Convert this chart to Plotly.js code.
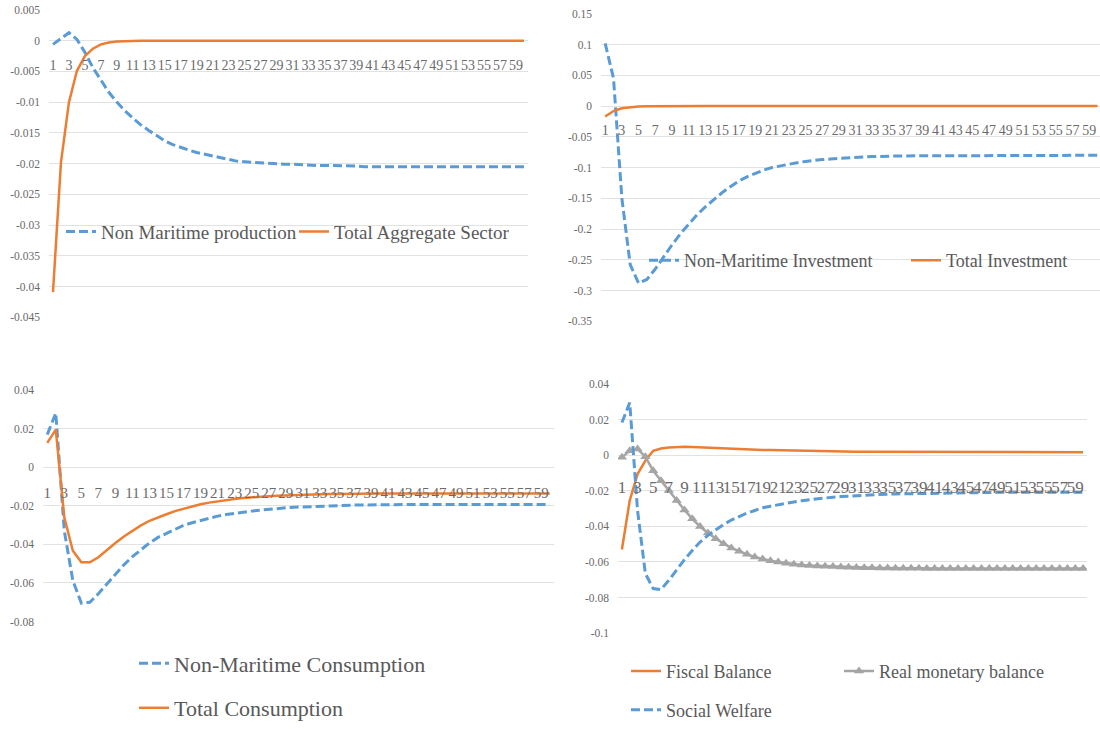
<!DOCTYPE html>
<html>
<head>
<meta charset="utf-8">
<script src="https://cdn.plot.ly/plotly-3.0.1.min.js"></script>
<style>html,body{margin:0;padding:0;background:#fff;}#chart{width:1100px;height:729px;}</style>
</head>
<body>
<div id="chart"></div>
<script>
var periods = [1,2,3,4,5,6,7,8,9,10,11,12,13,14,15,16,17,18,19,20,21,22,23,24,25,26,27,28,29,30,31,32,33,34,35,36,37,38,39,40,41,42,43,44,45,46,47,48,49,50,51,52,53,54,55,56,57,58,59,60];
var xTickVals = [1,3,5,7,9,11,13,15,17,19,21,23,25,27,29,31,33,35,37,39,41,43,45,47,49,51,53,55,57,59];
var xTickText = ["1","3","5","7","9","11","13","15","17","19","21","23","25","27","29","31","33","35","37","39","41","43","45","47","49","51","53","55","57","59"];

// Panel 1
var nonMaritimeProduction = [-0.0006,0.0004,0.0013,0.0002,-0.0019,-0.0044,-0.0065,-0.0084,-0.0100,-0.0114,-0.0126,-0.0137,-0.0146,-0.0155,-0.0163,-0.0169,-0.0174,-0.0178,-0.0182,-0.0185,-0.0188,-0.0191,-0.0194,-0.0196,-0.0197,-0.0198,-0.0199,-0.0200,-0.0200,-0.0201,-0.0201,-0.0202,-0.0202,-0.0203,-0.0203,-0.0203,-0.0204,-0.0204,-0.0204,-0.0205,-0.0205,-0.0205,-0.0205,-0.0205,-0.0205,-0.0205,-0.0205,-0.0205,-0.0205,-0.0205,-0.0205,-0.0205,-0.0205,-0.0205,-0.0205,-0.0205,-0.0205,-0.0205,-0.0205,-0.0205];
var totalAggregateSector = [-0.0409,-0.0198,-0.0100,-0.0049,-0.0025,-0.0013,-0.0006,-0.0003,-0.00015,-0.00006,-0.00002,0,0,0,0,0,0,0,0,0,0,0,0,0,0,0,0,0,0,0,0,0,0,0,0,0,0,0,0,0,0,0,0,0,0,0,0,0,0,0,0,0,0,0,0,0,0,0,0,0];
var y1TickVals = [0.005,0,-0.005,-0.01,-0.015,-0.02,-0.025,-0.03,-0.035,-0.04,-0.045];
var y1TickText = ["0.005","0","-0.005","-0.01","-0.015","-0.02","-0.025","-0.03","-0.035","-0.04","-0.045"];

// Panel 2
var nonMaritimeInvestment = [0.102,0.045,-0.150,-0.258,-0.288,-0.282,-0.265,-0.245,-0.226,-0.208,-0.192,-0.177,-0.164,-0.152,-0.141,-0.131,-0.122,-0.115,-0.109,-0.104,-0.100,-0.097,-0.094,-0.092,-0.090,-0.088,-0.087,-0.086,-0.085,-0.084,-0.083,-0.083,-0.082,-0.082,-0.081,-0.081,-0.081,-0.081,-0.080,-0.080,-0.080,-0.080,-0.080,-0.080,-0.080,-0.080,-0.080,-0.080,-0.080,-0.080,-0.080,-0.080,-0.080,-0.080,-0.080,-0.080,-0.080,-0.080,-0.080,-0.080];
var totalInvestment = [-0.017,-0.008,-0.0035,-0.0015,-0.0007,-0.0003,-0.0001,0,0,0,0,0,0,0,0,0,0,0,0,0,0,0,0,0,0,0,0,0,0,0,0,0,0,0,0,0,0,0,0,0,0,0,0,0,0,0,0,0,0,0,0,0,0,0,0,0,0,0,0,0];
var y2TickVals = [0.15,0.1,0.05,0,-0.05,-0.1,-0.15,-0.2,-0.25,-0.3,-0.35];
var y2TickText = ["0.15","0.1","0.05","0","-0.05","-0.1","-0.15","-0.2","-0.25","-0.3","-0.35"];

// Panel 3
var nonMaritimeConsumption = [0.0168,0.0280,-0.0330,-0.0587,-0.0704,-0.0700,-0.0656,-0.0604,-0.0553,-0.0506,-0.0464,-0.0427,-0.0393,-0.0364,-0.0342,-0.0321,-0.0302,-0.0288,-0.0276,-0.0264,-0.0254,-0.0246,-0.0239,-0.0233,-0.0228,-0.0223,-0.0218,-0.0214,-0.0211,-0.0208,-0.0206,-0.0204,-0.0203,-0.0201,-0.0199,-0.0198,-0.0197,-0.0196,-0.0195,-0.0194,-0.0194,-0.0194,-0.0194,-0.0194,-0.0194,-0.0194,-0.0194,-0.0194,-0.0194,-0.0194,-0.0194,-0.0194,-0.0194,-0.0194,-0.0194,-0.0194,-0.0194,-0.0194,-0.0194,-0.0194];
var totalConsumption = [0.0125,0.0194,-0.0260,-0.0433,-0.0493,-0.0493,-0.0467,-0.0429,-0.0393,-0.0359,-0.0330,-0.0302,-0.0278,-0.0259,-0.0244,-0.0228,-0.0215,-0.0203,-0.0192,-0.0184,-0.0177,-0.0170,-0.0165,-0.0160,-0.0156,-0.0153,-0.0151,-0.0148,-0.0146,-0.0144,-0.0142,-0.0141,-0.0140,-0.0139,-0.0139,-0.0138,-0.0138,-0.0137,-0.0137,-0.0137,-0.0137,-0.0137,-0.0137,-0.0137,-0.0137,-0.0137,-0.0137,-0.0137,-0.0137,-0.0137,-0.0137,-0.0137,-0.0137,-0.0137,-0.0137,-0.0137,-0.0137,-0.0137,-0.0137,-0.0137];
var y3TickVals = [0.04,0.02,0,-0.02,-0.04,-0.06,-0.08];
var y3TickText = ["0.04","0.02","0","-0.02","-0.04","-0.06","-0.08"];

// Panel 4
var fiscalBalance = [-0.0530,-0.0254,-0.0105,-0.0030,0.0026,0.0039,0.0045,0.0049,0.0049,0.0047,0.0045,0.0043,0.0040,0.0037,0.0035,0.0033,0.0032,0.0031,0.0030,0.0030,0.0029,0.0028,0.0026,0.0024,0.0023,0.0022,0.0021,0.0021,0.0021,0.0021,0.0021,0.0021,0.0021,0.0021,0.0021,0.0020,0.0020,0.0020,0.0020,0.0020,0.0020,0.0020,0.0020,0.0020,0.0020,0.0019,0.0019,0.0019,0.0019,0.0019,0.0019,0.0019,0.0019,0.0019,0.0019,0.0018,0.0018,0.0018,0.0018,0.0018];
var realMonetaryBalance = [-0.0011,0.0026,0.0036,-0.0007,-0.0086,-0.0142,-0.0198,-0.0254,-0.0307,-0.0357,-0.0400,-0.0437,-0.0469,-0.0497,-0.0521,-0.0540,-0.0557,-0.0572,-0.0583,-0.0593,-0.0600,-0.0607,-0.0613,-0.0617,-0.0620,-0.0622,-0.0624,-0.0626,-0.0628,-0.0630,-0.0631,-0.0632,-0.0633,-0.0634,-0.0634,-0.0635,-0.0635,-0.0636,-0.0636,-0.0637,-0.0637,-0.0637,-0.0637,-0.0637,-0.0637,-0.0637,-0.0637,-0.0637,-0.0637,-0.0637,-0.0637,-0.0637,-0.0637,-0.0637,-0.0637,-0.0637,-0.0637,-0.0637,-0.0637,-0.0637];
var socialWelfare = [0.0185,0.0297,-0.0310,-0.0665,-0.0750,-0.0755,-0.0703,-0.0643,-0.0587,-0.0535,-0.0488,-0.0450,-0.0417,-0.0389,-0.0364,-0.0344,-0.0325,-0.0310,-0.0295,-0.0286,-0.0277,-0.0269,-0.0262,-0.0255,-0.0249,-0.0244,-0.0239,-0.0235,-0.0232,-0.0229,-0.0226,-0.0224,-0.0222,-0.0220,-0.0218,-0.0217,-0.0216,-0.0215,-0.0214,-0.0213,-0.0212,-0.0211,-0.0211,-0.0210,-0.0210,-0.0209,-0.0209,-0.0208,-0.0208,-0.0208,-0.0207,-0.0207,-0.0207,-0.0207,-0.0207,-0.0207,-0.0207,-0.0207,-0.0207,-0.0207];
var y4TickVals = [0.04,0.02,0,-0.02,-0.04,-0.06,-0.08,-0.1];
var y4TickText = ["0.04","0.02","0","-0.02","-0.04","-0.06","-0.08","-0.1"];

var BLUE = '#5B9BD5', ORANGE = '#ED7D31', GREY = '#A5A5A5', TXT = '#595959', TICK = '#6A6A6A', GRID = '#E2E2E2';
var FONT = 'Liberation Serif';
var W = 1100, H = 729;
var DASH = '9px,4px';

function px2fx(p){ return p / W; }
function px2fy(p){ return 1 - p / H; }

var panels = [
  {l:49, r:528, t:10, b:319, yr:[-0.045,0.005], xr:[0.5,60.5], tv:y1TickVals, tt:y1TickText, xfs:14, xstand:14},
  {l:601, r:1100, t:14, b:323, yr:[-0.35,0.15], xr:[0.5,60.3], tv:y2TickVals, tt:y2TickText, xfs:14, xstand:14},
  {l:43, r:554, t:392, b:625, yr:[-0.08,0.04], xr:[0.5,60.5], tv:y3TickVals, tt:y3TickText, xfs:15, xstand:15},
  {l:618, r:1087, t:386.5, b:636.5, yr:[-0.1,0.04], xr:[0.5,60.5], tv:y4TickVals, tt:y4TickText, xfs:17, xstand:20}
];

var layout = {
  width: W, height: H,
  margin: {l:0, r:0, t:0, b:0},
  paper_bgcolor: '#fff', plot_bgcolor: '#fff',
  font: {family: FONT, color: TXT},
  showlegend: true
};

panels.forEach(function(p, i){
  var n = i + 1;
  var xa = 'xaxis' + (n === 1 ? '' : n), ya = 'yaxis' + (n === 1 ? '' : n);
  var ydom = [px2fy(p.b), px2fy(p.t)];
  var zeroFrac = (0 - p.yr[0]) / (p.yr[1] - p.yr[0]);
  layout[xa] = {
    domain: [px2fx(p.l), px2fx(p.r)],
    range: p.xr, anchor: 'free', position: ydom[0] + zeroFrac * (ydom[1] - ydom[0]),
    tickmode: 'array', tickvals: xTickVals, ticktext: xTickText, tickangle: 0,
    showgrid: false, zeroline: false, showline: false, ticks: '',
    tickfont: {family: FONT, size: p.xfs, color: TICK},
    ticklabelstandoff: p.xstand, fixedrange: true
  };
  layout[ya] = {
    domain: ydom, range: p.yr, anchor: 'x' + (n === 1 ? '' : n),
    tickmode: 'array', tickvals: p.tv, ticktext: p.tt,
    showgrid: true, gridcolor: GRID, gridwidth: 1, zeroline: false, showline: false, ticks: '',
    tickfont: {family: FONT, size: 11.5, color: TICK},
    ticklabelstandoff: 8, fixedrange: true
  };
});

function line(x, y, n, name, color, dash, leg, extra){
  var t = {
    x: x, y: y, type: 'scatter', mode: 'lines', name: name,
    xaxis: 'x' + (n === 1 ? '' : n), yaxis: 'y' + (n === 1 ? '' : n),
    line: {color: color, width: dash ? 3 : 2.5, dash: dash || 'solid'},
    legend: leg, hoverinfo: 'skip'
  };
  if (extra) for (var k in extra) t[k] = extra[k];
  return t;
}

var data = [
  line(periods, nonMaritimeProduction, 1, 'Non Maritime production', BLUE, DASH, 'legend'),
  line(periods, totalAggregateSector, 1, 'Total Aggregate Sector', ORANGE, null, 'legend2'),
  line(periods, nonMaritimeInvestment, 2, 'Non-Maritime Investment', BLUE, DASH, 'legend3'),
  line(periods, totalInvestment, 2, 'Total Investment', ORANGE, null, 'legend4'),
  line(periods, nonMaritimeConsumption, 3, 'Non-Maritime Consumption', BLUE, DASH, 'legend5'),
  line(periods, totalConsumption, 3, 'Total Consumption', ORANGE, null, 'legend6'),
  line(periods, fiscalBalance, 4, 'Fiscal Balance', ORANGE, null, 'legend7'),
  line(periods, realMonetaryBalance, 4, 'Real monetary balance', GREY, null, 'legend8',
       {mode: 'lines+markers', marker: {symbol: 'triangle-up', size: 9, color: GREY}}),
  line(periods, socialWelfare, 4, 'Social Welfare', BLUE, DASH, 'legend9')
];

// legend item positions: line start x (px), centre y (px), font size
function leg(linePx, ypx, fs){
  return {x: px2fx(linePx - 6), y: px2fy(ypx), xanchor: 'left', yanchor: 'middle',
    orientation: 'h', bgcolor: 'rgba(255,255,255,0)', borderwidth: 0,
    font: {family: FONT, size: fs, color: TXT}, itemclick: false, itemdoubleclick: false};
}
layout.legend  = leg(67, 233, 19);
layout.legend2 = leg(300, 233, 19);
layout.legend3 = leg(650, 262, 18);
layout.legend4 = leg(912, 262, 18);
layout.legend5 = leg(140, 667, 22);
layout.legend6 = leg(140, 712, 22);
layout.legend7 = leg(632, 675, 18);
layout.legend8 = leg(845, 675, 18);
layout.legend9 = leg(632, 714, 18);

Plotly.newPlot('chart', data, layout, {displayModeBar: false, staticPlot: true});
</script>
</body>
</html>
